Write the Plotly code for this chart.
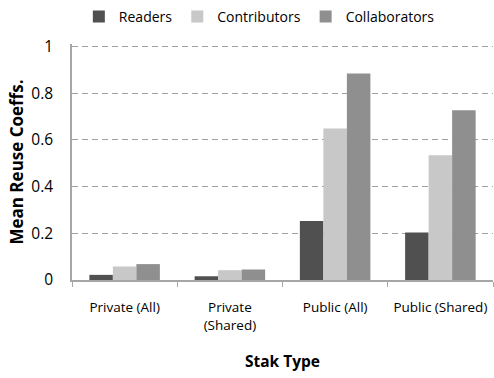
import plotly.graph_objects as go

categories = ["Private (All)", "Private<br>(Shared)", "Public (All)", "Public (Shared)"]
readers = [0.022, 0.016, 0.253, 0.203]
contributors = [0.058, 0.042, 0.648, 0.534]
collaborators = [0.068, 0.045, 0.884, 0.727]

series = [
    ("Readers", readers, "#505050"),
    ("Contributors", contributors, "#c8c8c8"),
    ("Collaborators", collaborators, "#8f8f8f"),
]

fig = go.Figure()
for name, vals, color in series:
    fig.add_trace(go.Bar(x=categories, y=vals, name=name, marker=dict(color=color, line=dict(width=0))))

font_family = "Open Sans, sans-serif"
fig.update_layout(
    width=494, height=378,
    margin=dict(l=72, r=1, t=39, b=98),
    plot_bgcolor="white", paper_bgcolor="white",
    barmode="group", bargap=0.33, bargroupgap=0,
    font=dict(family=font_family, size=14, color="#000000"),
    legend=dict(orientation="h", x=0.445, xanchor="center", y=1.115, yanchor="middle",
                font=dict(size=14), itemwidth=30, tracegroupgap=0),
    xaxis=dict(
        showline=True, linecolor="#a6a6a6", linewidth=1.5,
        ticks="outside", tickson="boundaries", ticklen=5, tickcolor="#a6a6a6",
        title=dict(text="<b>Stak Type</b>", font=dict(size=15.5), standoff=24),
        tickfont=dict(size=13.5), ticklabelstandoff=14,
    ),
    yaxis=dict(
        range=[0, 1.01], tickvals=[0, 0.2, 0.4, 0.6, 0.8, 1],
        ticktext=["0", "0.2", "0.4", "0.6", "0.8", "1"],
        showline=True, linecolor="#a6a6a6", linewidth=1.5,
        showgrid=True, gridcolor="#a0a0a0", griddash="6px,4px", gridwidth=1,
        zeroline=False, ticks="", ticklabelstandoff=14,
        title=dict(text="<b>Mean Reuse Coeffs.</b>", font=dict(size=17), standoff=3),
        tickfont=dict(size=15.5),
    ),
)

fig.write_html("out.html")
